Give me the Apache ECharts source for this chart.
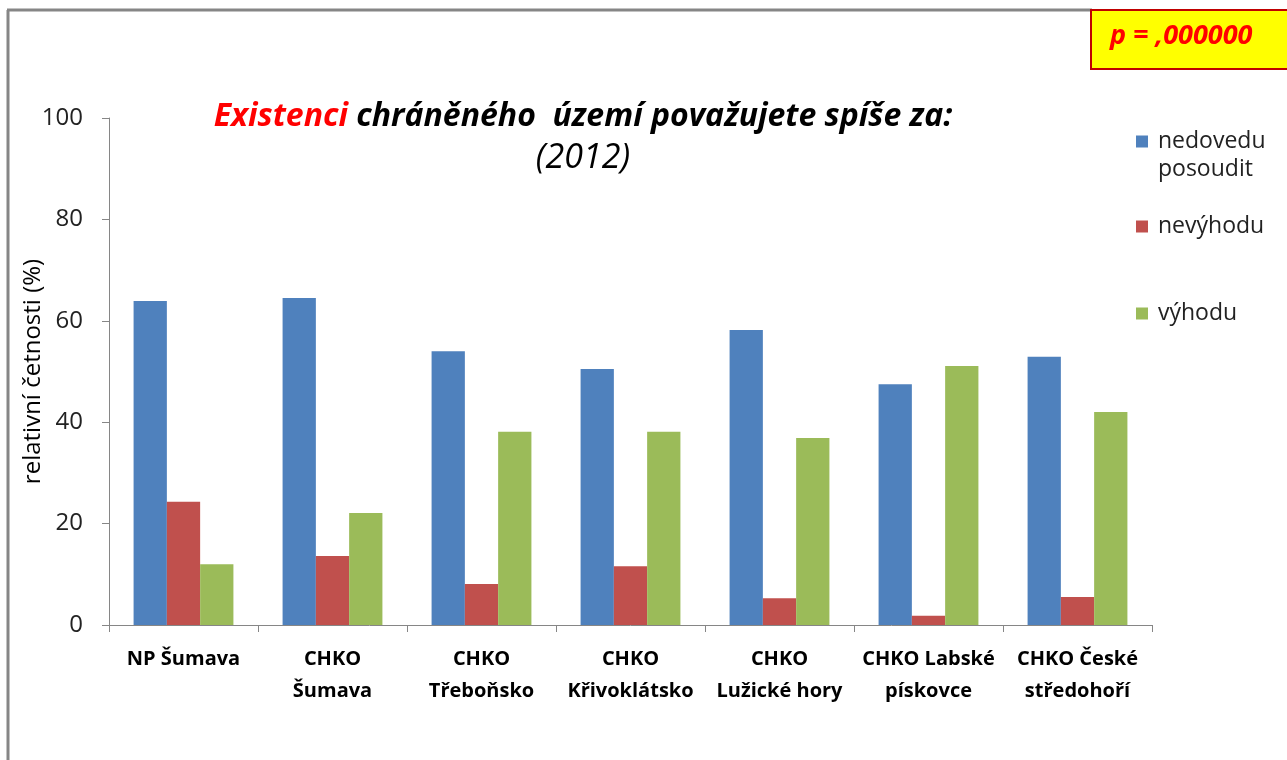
<!DOCTYPE html>
<html>
<head>
<meta charset="utf-8">
<script src="https://cdn.jsdelivr.net/npm/echarts@6/dist/echarts.min.js"></script>
<style>
html,body{margin:0;padding:0;background:#fff;}
#main{width:1287px;height:760px;}
</style>
</head>
<body>
<div id="main"></div>
<script>
const categories = ['NP Šumava', 'CHKO\nŠumava', 'CHKO\nTřeboňsko', 'CHKO\nKřivoklátsko', 'CHKO\nLužické hory', 'CHKO Labské\npískovce', 'CHKO České\nstředohoří'];
const seriesNames = ['nedovedu posoudit', 'nevýhodu', 'výhodu'];
const nedovedu = [63.9, 64.5, 54.0, 50.5, 58.2, 47.5, 52.9];
const nevyhodu = [24.3, 13.6, 8.1, 11.6, 5.3, 1.8, 5.5];
const vyhodu = [12.0, 22.1, 38.1, 38.1, 36.9, 51.1, 42.0];
const yTicks = [0, 20, 40, 60, 80, 100];
const titleParts = ['Existenci', ' chráněného  území považujete spíše za:', '(2012)'];
const pValue = 'p = ,000000';

const FONT = '"Open Sans", sans-serif';
const colors = ['#4F81BD', '#C0504D', '#9BBB59'];
const chart = echarts.init(document.getElementById('main'));

const legendText = { fontFamily: FONT, fontSize: 23, color: '#222', padding: [0, 0, 0, 5] };
function legendFor(name, top, extra) {
  return Object.assign({
    show: true, data: [name], left: 1136, top: top, orient: 'vertical',
    itemWidth: 12, itemHeight: 12, icon: 'rect', selectedMode: false, itemGap: 10, padding: 0,
    textStyle: legendText
  }, extra || {});
}

chart.setOption({
  animation: false,
  backgroundColor: '#fff',
  color: colors,
  title: [{
    text: '{r|' + titleParts[0] + '}{b|' + titleParts[1] + '}',
    left: 583, top: 96, textAlign: 'center', padding: 0,
    textStyle: {
      rich: {
        r: { fontFamily: FONT, fontSize: 32, fontWeight: 'bold', fontStyle: 'italic', color: '#FF0000', lineHeight: 42 },
        b: { fontFamily: FONT, fontSize: 32, fontWeight: 'bold', fontStyle: 'italic', color: '#000', lineHeight: 42 }
      }
    }
  }, {
    text: titleParts[2],
    left: 583, top: 137, textAlign: 'center', padding: 0,
    textStyle: { fontFamily: FONT, fontSize: 34, fontStyle: 'italic', fontWeight: 'normal', color: '#000', lineHeight: 42 }
  }],
  legend: [
    legendFor(seriesNames[0], 130, { formatter: 'nedovedu' }),
    legendFor(seriesNames[1], 215),
    legendFor(seriesNames[2], 302)
  ],
  grid: { left: 109, right: 135, top: 118, bottom: 135, containLabel: false },
  xAxis: {
    type: 'category', data: categories,
    axisLine: { lineStyle: { color: '#868686', width: 1 } },
    axisTick: { show: true, length: 7, lineStyle: { color: '#868686' } },
    axisLabel: { interval: 0, margin: 18, fontFamily: FONT, fontSize: 20, fontWeight: 'bold', color: '#000', lineHeight: 32, verticalAlign: 'top' }
  },
  yAxis: {
    type: 'value', min: yTicks[0], max: yTicks[yTicks.length - 1], interval: 20,
    name: 'relativní četnosti (%)', nameLocation: 'middle', nameGap: 64, nameRotate: 90,
    nameMoveOverlap: false,
    nameTextStyle: { fontFamily: FONT, fontSize: 24, color: '#000' },
    axisLine: { show: true, lineStyle: { color: '#868686' } },
    axisTick: { show: true, length: 7, lineStyle: { color: '#868686' } },
    splitLine: { show: false },
    axisLabel: { margin: 26, fontFamily: FONT, fontSize: 24, color: '#222' }
  },
  series: [
    { name: seriesNames[0], type: 'bar', data: nedovedu, barGap: '0%', barCategoryGap: '33%' },
    { name: seriesNames[1], type: 'bar', data: nevyhodu, barGap: '0%', barCategoryGap: '33%' },
    { name: seriesNames[2], type: 'bar', data: vyhodu, barGap: '0%', barCategoryGap: '33%' }
  ],
  graphic: [
    { type: 'line', shape: { x1: 8, y1: 10, x2: 8, y2: 760 }, style: { stroke: '#868686', lineWidth: 3 } },
    { type: 'line', shape: { x1: 7, y1: 10, x2: 1092, y2: 10 }, style: { stroke: '#868686', lineWidth: 3 } },
    { type: 'rect', shape: { x: 1091, y: 10, width: 200, height: 59 }, style: { fill: '#FFFF00', stroke: '#C00000', lineWidth: 2 } },
    { type: 'text', left: 1110, top: 23, style: { text: pValue, fontFamily: FONT, fontSize: 27, fontWeight: 'bold', fontStyle: 'italic', fill: '#FF0000' } },
    { type: 'text', left: 1158, top: 158, style: { text: 'posoudit', fontFamily: FONT, fontSize: 23, fill: '#222' } }
  ]
});
</script>
</body>
</html>
